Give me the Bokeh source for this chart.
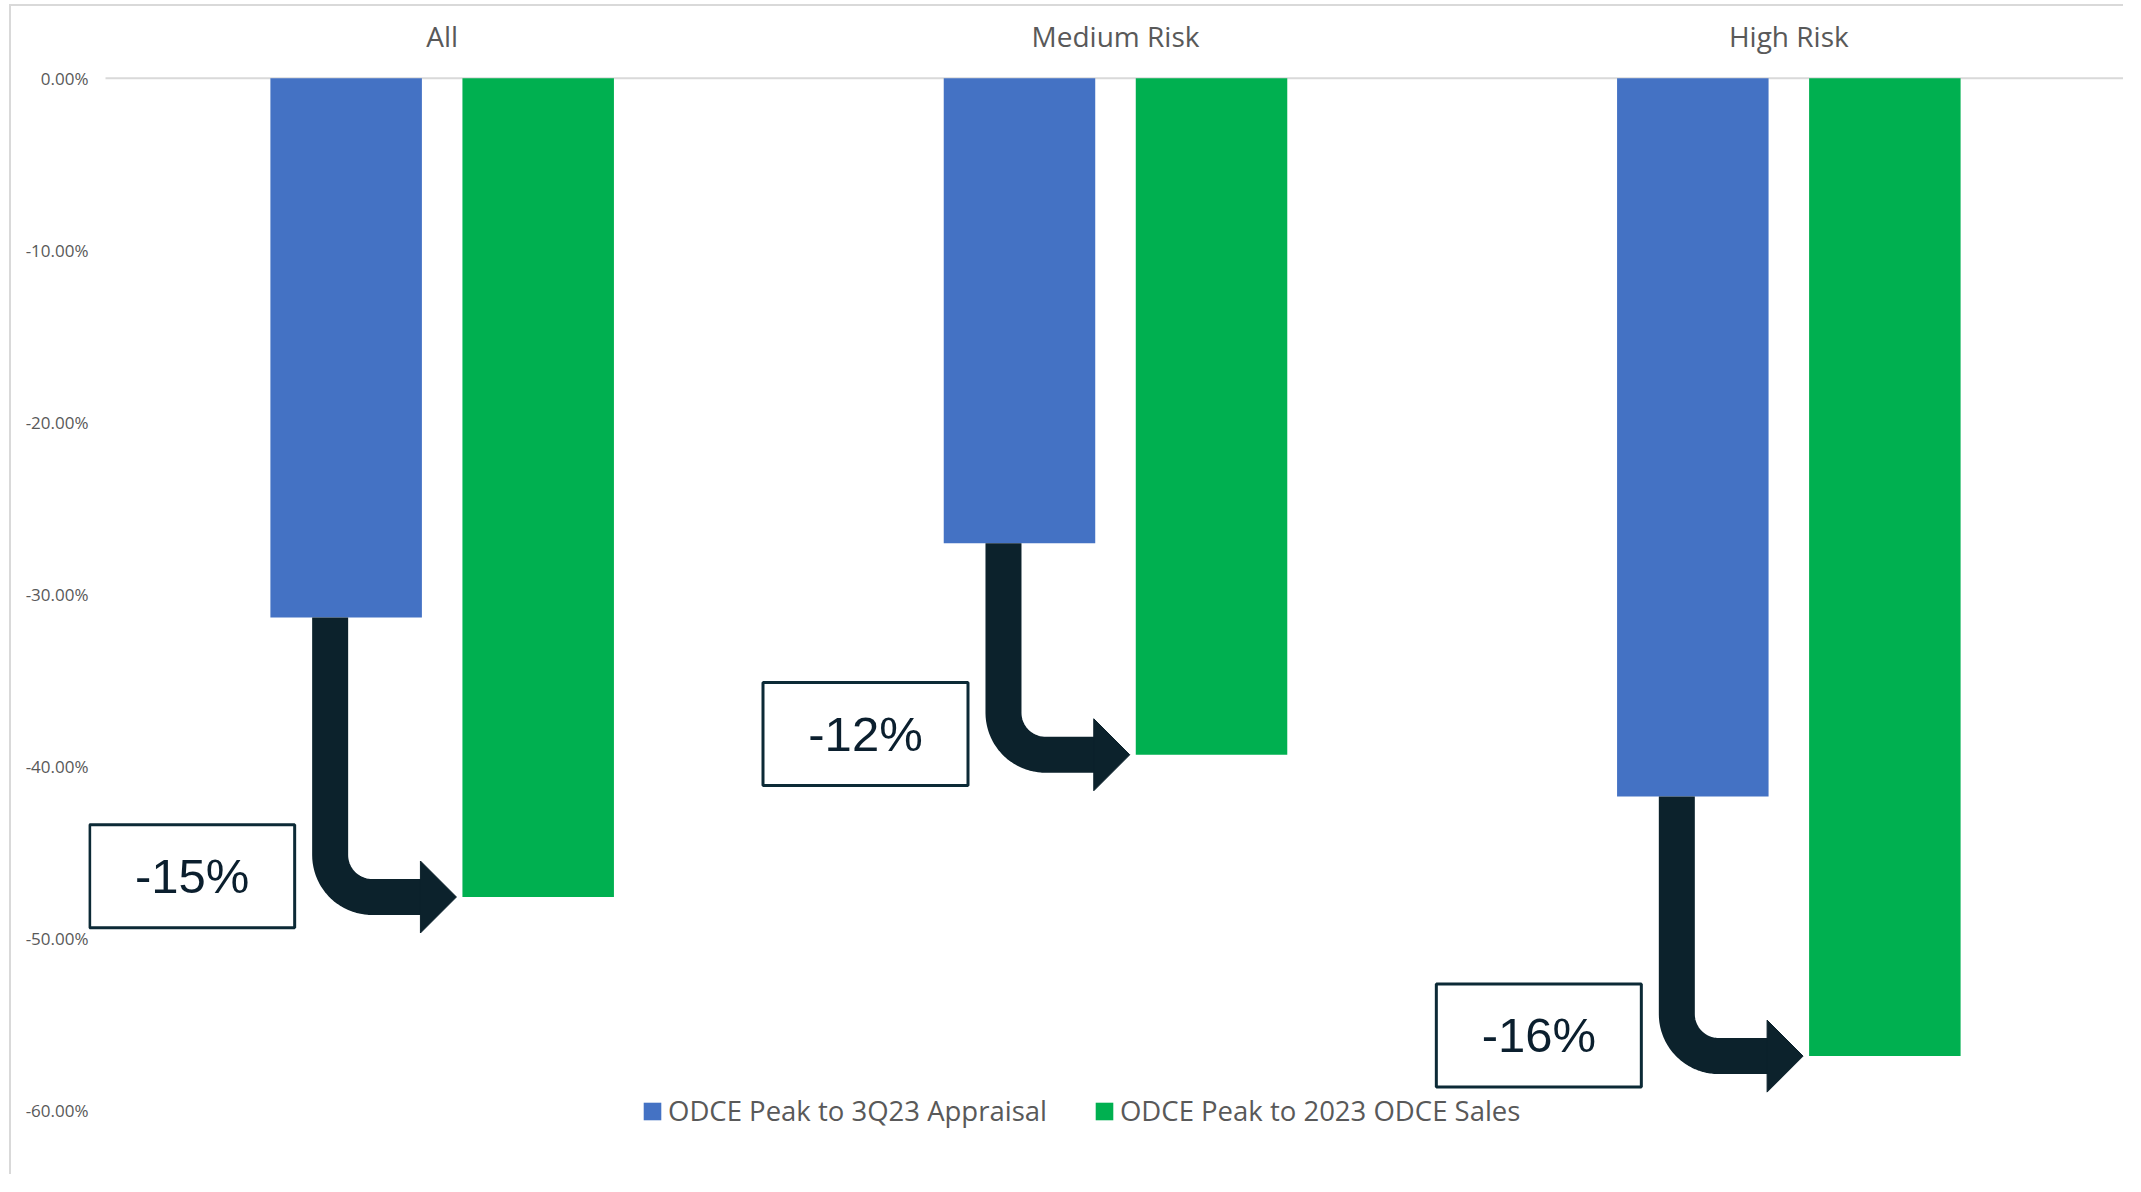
import numpy as np
from bokeh.plotting import figure
from bokeh.models import (ColumnDataSource, FixedTicker, NumeralTickFormatter,
                          Legend, LegendItem, Range1d)
from bokeh.core.properties import value
from bokeh.embed import file_html
from bokeh.resources import INLINE

# ---------------- data ----------------
categories = ["All", "Medium Risk", "High Risk"]
appraisal = [-0.3135, -0.2703, -0.4175]   # ODCE Peak to 3Q23 Appraisal
sales = [-0.476, -0.3933, -0.5685]        # ODCE Peak to 2023 ODCE Sales
gap_labels = ["-15%", "-12%", "-16%"]
y_ticks = [0.0, -0.1, -0.2, -0.3, -0.4, -0.5, -0.6]
series_names = ["ODCE Peak to 3Q23 Appraisal", "ODCE Peak to 2023 ODCE Sales"]
colors = ["#4472C4", "#00B050"]

# ---------------- layout ----------------
W, H = 2114, 1170
LB, RB = 77, 0
x_start, x_end = -0.02525, 3.0
y_start, y_end = -0.6385, 0.04174
kx = (W - LB - RB) / (x_end - x_start)   # px per x unit
ky = H / (y_end - y_start)               # px per y unit

bar_w = 0.225
offset = 0.1426
centers = [i + 0.5 for i in range(len(categories))]

p = figure(width=W, height=H, output_backend="svg", toolbar_location=None,
           x_range=Range1d(x_start, x_end), y_range=Range1d(y_start, y_end),
           x_axis_location=None, min_border_left=LB, min_border_right=RB,
           min_border_top=0, min_border_bottom=0)
p.outline_line_color = None
p.xgrid.visible = False
p.ygrid.visible = False
p.background_fill_color = "white"
p.border_fill_color = "white"
p.styles = {"margin-left": "9px", "margin-top": "4px",
            "border-left": "2px solid #D9D9D9", "border-top": "2px solid #D9D9D9"}

# y axis
p.yaxis.ticker = FixedTicker(ticks=y_ticks)
p.yaxis.formatter = NumeralTickFormatter(format="0.00%")
p.yaxis.axis_line_color = None
p.yaxis.major_tick_line_color = None
p.yaxis.minor_tick_line_color = None
p.yaxis.major_tick_out = 0
p.yaxis.major_tick_in = 0
p.yaxis.major_label_standoff = 0
p.yaxis.major_label_text_font = "Open Sans"
p.yaxis.major_label_text_font_size = "17px"
p.yaxis.major_label_text_color = "#595959"

# zero line
p.segment(x0=[0], y0=[0], x1=[len(categories)], y1=[0], line_color="#D9D9D9", line_width=2)

# bars
src_a = ColumnDataSource(dict(x=[c - offset for c in centers], v=appraisal))
src_s = ColumnDataSource(dict(x=[c + offset for c in centers], v=sales))
r_a = p.vbar(x="x", top=0, bottom="v", width=bar_w, source=src_a,
             fill_color=colors[0], line_color=None)
r_s = p.vbar(x="x", top=0, bottom="v", width=bar_w, source=src_s,
             fill_color=colors[1], line_color=None)

# category labels on top
p.text(x=centers, y=[41.8 / ky] * len(centers), text=categories,
       text_font=value("Open Sans"), text_font_size="28px", text_color="#595959",
       text_align="center", text_baseline="middle")

# bent arrows from appraisal bar to sales bar
R = 42
rx, ry = R / kx, R / ky
line_xs, line_ys, head_xs, head_ys = [], [], [], []
for c, b, g in zip(centers, appraisal, sales):
    xv = c - offset - 16 / kx
    green_left = c + offset - bar_w / 2
    tip = green_left - 6 / kx
    base = tip - 36 / kx
    th = np.linspace(np.pi, 1.5 * np.pi, 24)
    cx, cy = xv + rx, g + ry
    line_xs.append([xv] + list(cx + rx * np.cos(th)) + [base + 2 / kx])
    line_ys.append([b] + list(cy + ry * np.sin(th)) + [g])
    head_xs.append([base, base, tip])
    head_ys.append([g + 36 / ky, g - 36 / ky, g])
arrow_col = "#0c222c"
p.multi_line(xs=line_xs, ys=line_ys, line_color=arrow_col, line_width=36,
             line_join="round", line_cap="butt")
p.patches(xs=head_xs, ys=head_ys, fill_color=arrow_col, line_color=arrow_col, line_width=1)

# difference boxes
box_x = [c - 250 / kx for c in centers]
box_y = [g + 0.012 for g in sales]
p.rect(x=box_x, y=box_y, width=205 / kx, height=103 / ky, fill_color="white",
       line_color="#0c2a36", line_width=3)
p.text(x=box_x, y=box_y, text=gap_labels, text_font=value("Liberation Sans"),
       text_font_size="49px", text_color="#0b1f2e", text_align="center",
       text_baseline="middle")

# legend
legend = Legend(items=[LegendItem(label=series_names[0], renderers=[r_a]),
                       LegendItem(label=series_names[1], renderers=[r_s])],
                orientation="horizontal", location=(553, 47),
                glyph_width=22, glyph_height=22, label_standoff=5, spacing=46,
                padding=0, margin=0, border_line_color=None,
                background_fill_alpha=0, label_text_font="Open Sans",
                label_text_font_size="27.5px", label_text_color="#595959")
p.add_layout(legend)

open("out.html", "w").write(file_html(p, INLINE))
